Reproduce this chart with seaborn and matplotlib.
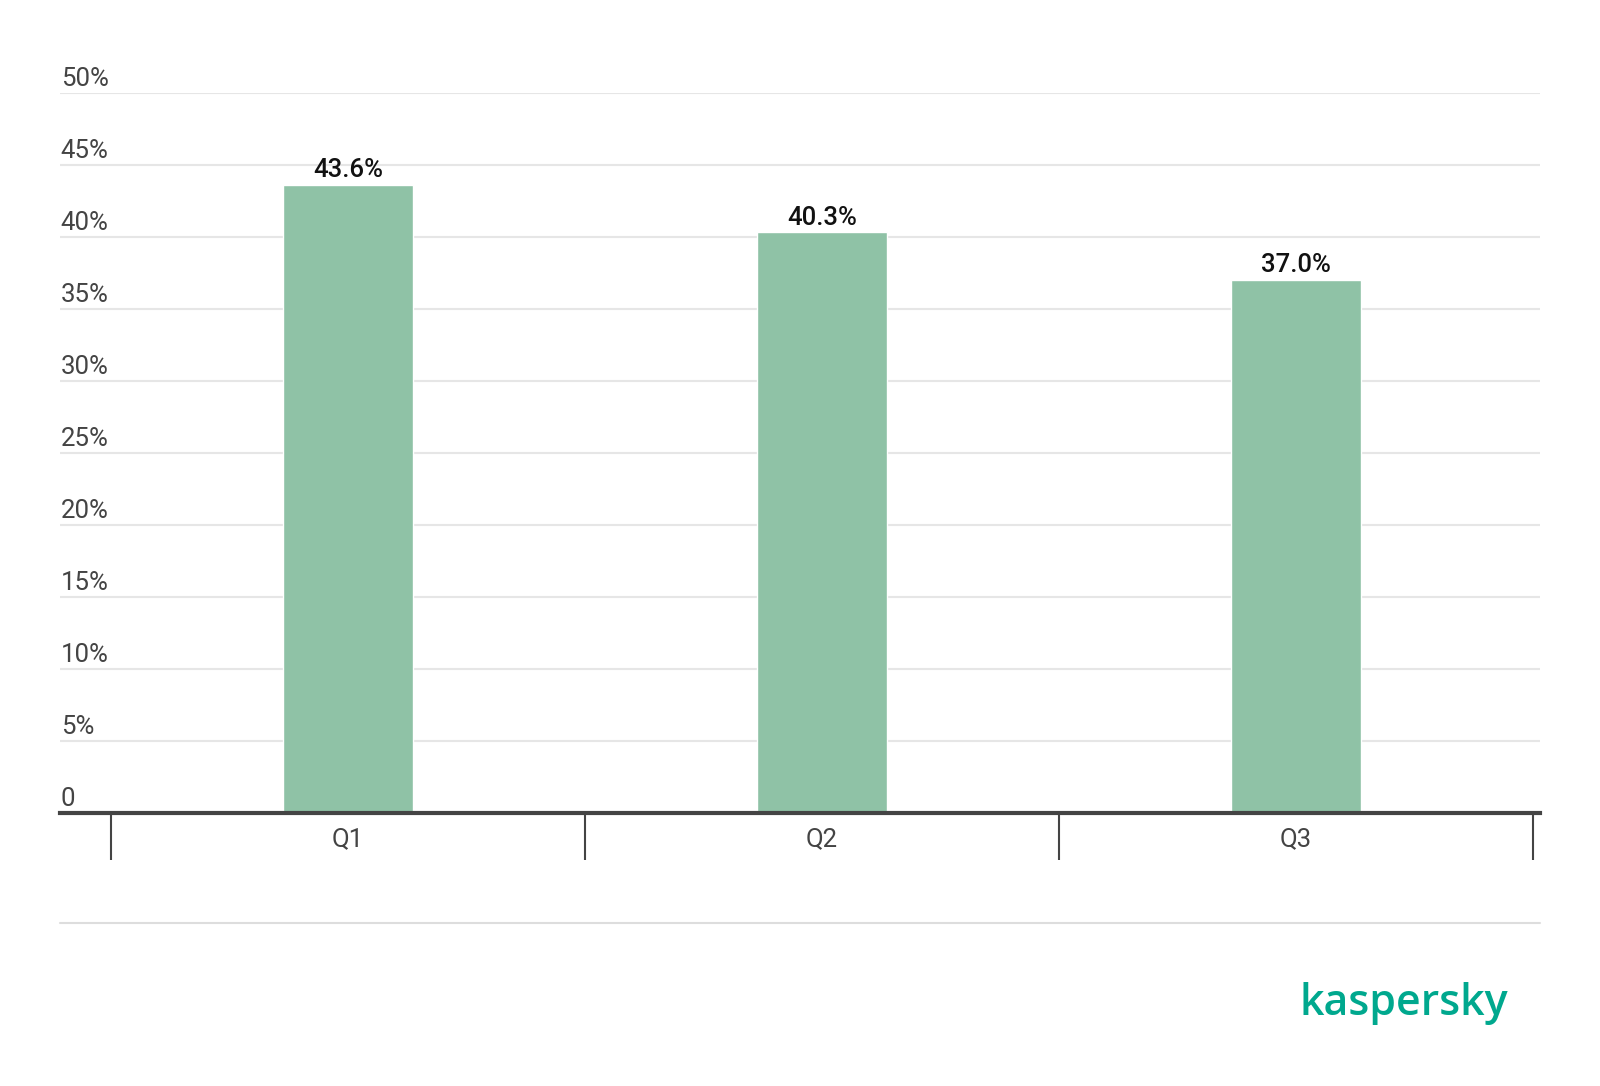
import matplotlib
matplotlib.use("Agg")
import matplotlib.pyplot as plt
from matplotlib.lines import Line2D
import seaborn as sns
import pandas as pd

quarters = ["Q1", "Q2", "Q3"]
shares = [43.6, 40.3, 37.0]
y_ticks = [0, 5, 10, 15, 20, 25, 30, 35, 40, 45, 50]
y_tick_labels = ["0", "5%", "10%", "15%", "20%", "25%", "30%", "35%", "40%", "45%", "50%"]
bar_labels = ["43.6%", "40.3%", "37.0%"]

sns.set_theme(style="white")
plt.rcParams["font.family"] = ["Roboto", "DejaVu Sans"]

df = pd.DataFrame({"quarter": quarters, "share": shares})

fig = plt.figure(figsize=(16, 10.86), dpi=100)
ax = fig.add_axes([0.0375, 0.2514, 0.925, 0.6632])

sns.barplot(data=df, x="quarter", y="share", color="#8fc2a6", saturation=1,
            width=0.274, ax=ax, zorder=3)

ax.set_ylim(0, 50)
ax.set_xlim(-0.607, 2.515)
ax.set_xlabel("")
ax.set_ylabel("")

# grid lines and tick labels sitting above each line
ax.set_yticks(y_ticks)
ax.set_yticklabels([])
ax.tick_params(axis="y", length=0)
for t in y_ticks[1:]:
    ax.axhline(t, color="#e6e6e6", lw=1.5, zorder=1)
trans = ax.get_yaxis_transform()
for t, lab in zip(y_ticks, y_tick_labels):
    ax.annotate(lab, xy=(0, t), xycoords=trans, xytext=(0.5, 1.5),
                textcoords="offset points", ha="left", va="bottom",
                fontsize=18.5, color="#444444", annotation_clip=False)

# bar value labels
ax.bar_label(ax.containers[0], labels=bar_labels, padding=2,
             fontsize=18.5, fontweight="medium", color="#111111")

# x axis: baseline, category labels, separator ticks
for side in ["top", "right", "left"]:
    ax.spines[side].set_visible(False)
ax.spines["bottom"].set_color("#444444")
ax.spines["bottom"].set_linewidth(3)
ax.spines["bottom"].set_zorder(4)
ax.tick_params(axis="x", which="major", bottom=False, length=0, pad=10,
               labelsize=18.5, labelcolor="#444444")
ax.set_xticks([-0.5, 0.5, 1.5, 2.5], minor=True)
ax.tick_params(axis="x", which="minor", bottom=True, length=34, width=1.5,
               color="#444444", direction="out")

# footer rule and logo
fig.add_artist(Line2D([0.0375, 0.9625], [0.150, 0.150],
                      color="#dddddd", lw=1.5, transform=fig.transFigure))
fig.text(0.9425, 0.0764, "kaspersky", ha="right", va="center",
         fontsize=31, color="#00a88e", fontweight="semibold",
         family=["Open Sans", "DejaVu Sans"])

fig.savefig("out.png", dpi=100)
